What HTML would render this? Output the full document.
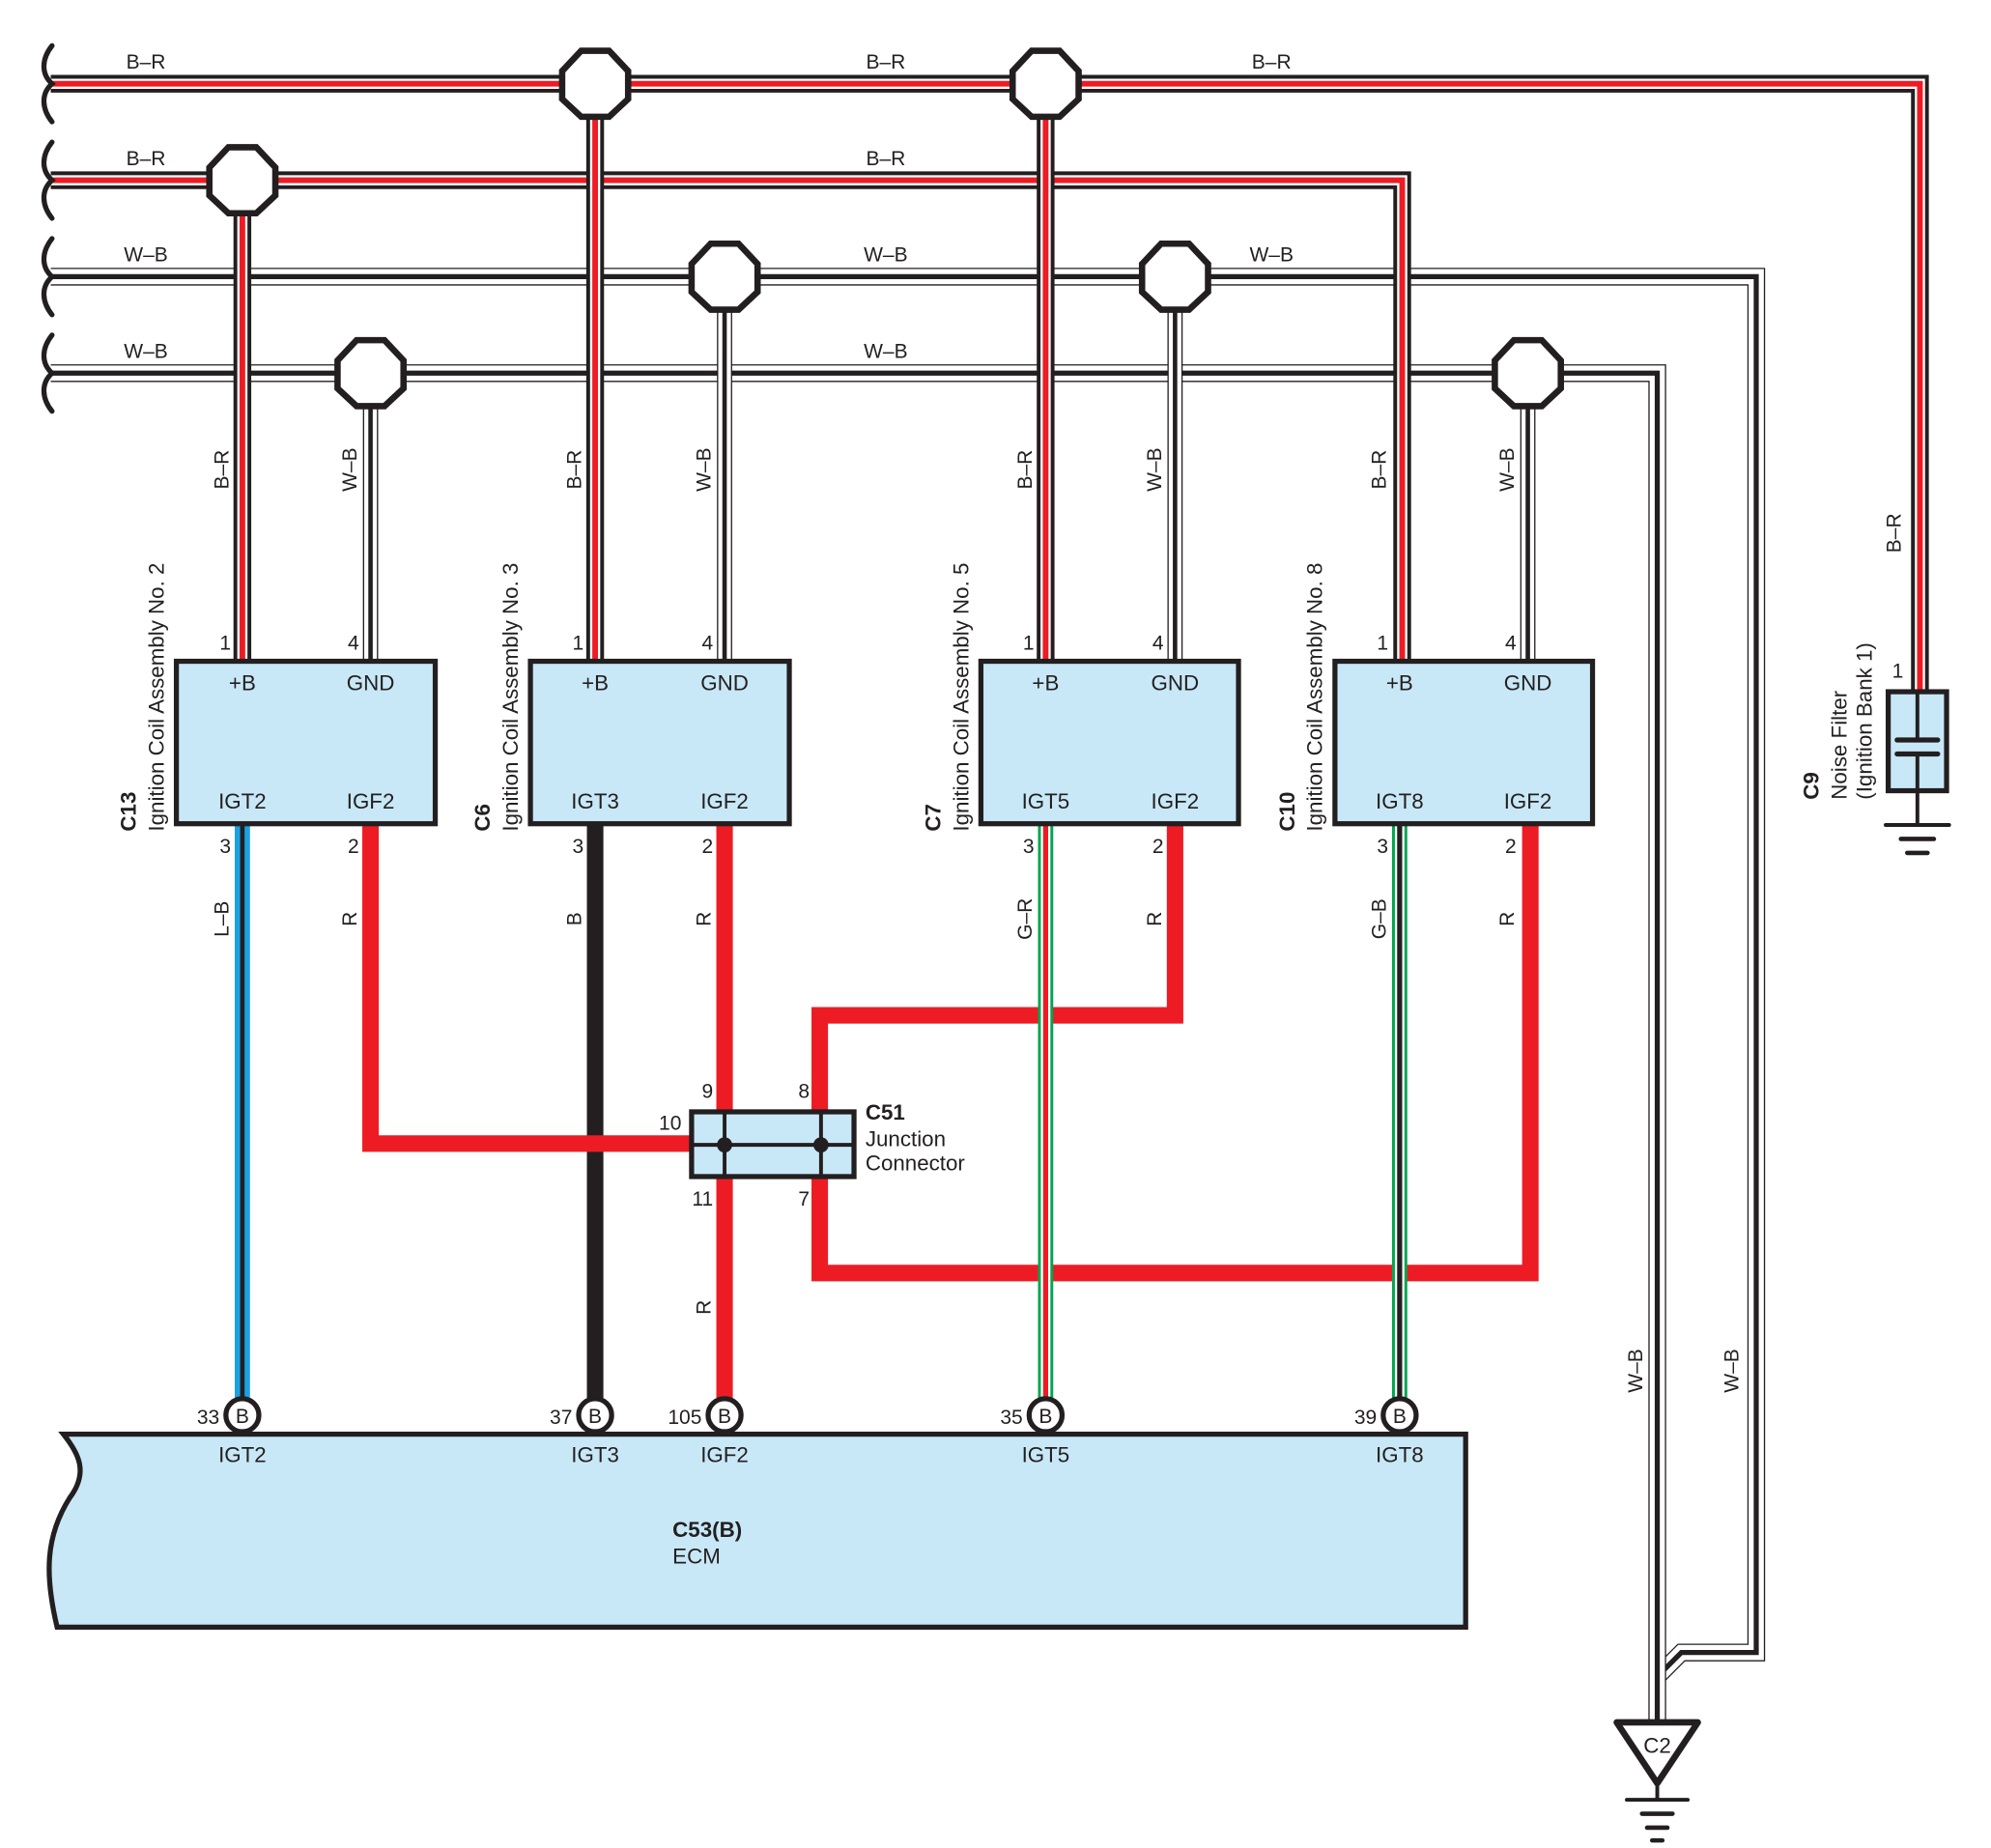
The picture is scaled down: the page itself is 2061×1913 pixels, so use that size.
<!DOCTYPE html>
<html><head><meta charset="utf-8"><style>
html,body{margin:0;padding:0;background:#fff;}
svg{display:block;}
text{font-family:"Liberation Sans",sans-serif;fill:#231f20;}
</style></head><body>
<svg width="2061" height="1913" viewBox="0 0 1569 1456" preserveAspectRatio="none" xmlns="http://www.w3.org/2000/svg">
<g fill="none" stroke-linejoin="miter" stroke-linecap="butt">
<!-- W-B wires -->
<path d="M40 218 H1384 V1302 H1325 L1306 1321" stroke="#231f20" stroke-width="14"/>
<path d="M40 218 H1384 V1302 H1325 L1306 1321" stroke="#fff" stroke-width="12"/>
<path d="M40 218 H1384 V1302 H1325 L1306 1321" stroke="#231f20" stroke-width="4"/>
<path d="M40 294 H1306 V1357" stroke="#231f20" stroke-width="14"/>
<path d="M40 294 H1306 V1357" stroke="#fff" stroke-width="12"/>
<path d="M40 294 H1306 V1357" stroke="#231f20" stroke-width="4"/>
<path d="M292 294 V521 M571 218 V521 M926 218 V521 M1204 294 V521" stroke="#231f20" stroke-width="12"/>
<path d="M292 294 V521 M571 218 V521 M926 218 V521 M1204 294 V521" stroke="#fff" stroke-width="10"/>
<path d="M292 294 V521 M571 218 V521 M926 218 V521 M1204 294 V521" stroke="#231f20" stroke-width="3.5"/>
<!-- B-R wires -->
<path d="M40 66 H1513 V545" stroke="#231f20" stroke-width="14"/>
<path d="M40 66 H1513 V545" stroke="#fff" stroke-width="8"/>
<path d="M40 66 H1513 V545" stroke="#ed1c24" stroke-width="4.5"/>
<path d="M40 142 H1105 V521" stroke="#231f20" stroke-width="14"/>
<path d="M40 142 H1105 V521" stroke="#fff" stroke-width="8"/>
<path d="M40 142 H1105 V521" stroke="#ed1c24" stroke-width="4.5"/>
<path d="M191 142 V521 M469 66 V521 M824 66 V521" stroke="#231f20" stroke-width="14"/>
<path d="M191 142 V521 M469 66 V521 M824 66 V521" stroke="#fff" stroke-width="8"/>
<path d="M191 142 V521 M469 66 V521 M824 66 V521" stroke="#ed1c24" stroke-width="4.5"/>
<!-- braces -->
<g stroke="#231f20" stroke-width="4" stroke-linecap="round">
<path d="M41 36 C33 46 32 58 41 66 C32 74 33 86 41 96"/>
<path d="M41 112 C33 122 32 134 41 142 C32 150 33 162 41 172"/>
<path d="M41 188 C33 198 32 210 41 218 C32 226 33 238 41 248"/>
<path d="M41 264 C33 274 32 286 41 294 C32 302 33 314 41 324"/>
</g>
<!-- signal wires -->
<path d="M191 649 V1103" stroke="#1ba1e2" stroke-width="12"/>
<path d="M191 649 V1103" stroke="#231f20" stroke-width="3.5"/>
<path d="M469 649 V1103" stroke="#231f20" stroke-width="13"/>
<g stroke="#ed1c24" stroke-width="13">
<path d="M292 649 V901 H548"/>
<path d="M571 649 V878 M571 925 V1103"/>
<path d="M926 649 V800 H646 V878"/>
<path d="M646 925 V1003 H1206 V649"/>
</g>
<path d="M824 649 V1103" stroke="#00a651" stroke-width="12"/>
<path d="M824 649 V1103" stroke="#fff" stroke-width="7.5"/>
<path d="M824 649 V1103" stroke="#ed1c24" stroke-width="4"/>
<path d="M1103 649 V1103" stroke="#00a651" stroke-width="12"/>
<path d="M1103 649 V1103" stroke="#fff" stroke-width="7.5"/>
<path d="M1103 649 V1103" stroke="#231f20" stroke-width="4"/>
</g>
<!-- splices -->
<g fill="#fff" stroke="#231f20" stroke-width="5">
<polygon points="458,40 480,40 495,56 495,78 480,92 458,92 443,78 443,56"/>
<polygon points="813,40 835,40 850,56 850,78 835,92 813,92 798,78 798,56"/>
<polygon points="180,116 202,116 217,132 217,154 202,168 180,168 165,154 165,132"/>
<polygon points="560,192 582,192 597,208 597,230 582,244 560,244 545,230 545,208"/>
<polygon points="915,192 937,192 952,208 952,230 937,244 915,244 900,230 900,208"/>
<polygon points="281,268 303,268 318,284 318,306 303,320 281,320 266,306 266,284"/>
<polygon points="1193,268 1215,268 1230,284 1230,306 1215,320 1193,320 1178,306 1178,284"/>
</g>
<!-- coil boxes -->
<g fill="#c8e8f7" stroke="#231f20" stroke-width="4">
<rect x="139" y="521" width="204" height="128"/>
<rect x="418" y="521" width="204" height="128"/>
<rect x="773" y="521" width="203" height="128"/>
<rect x="1052" y="521" width="203" height="128"/>
<rect x="545" y="876" width="128" height="51"/>
<rect x="1488" y="545" width="46" height="78"/>
<path d="M50 1130 H1155 V1282 H45 C35 1240 36 1210 55 1180 C70 1160 62 1145 50 1130 Z"/>
</g>
<!-- junction internals -->
<g stroke="#231f20" stroke-width="3">
<path d="M545 902 H673 M571 876 V927 M647 876 V927"/>
</g>
<circle cx="571" cy="902" r="6" fill="#231f20"/>
<circle cx="647" cy="902" r="6" fill="#231f20"/>
<!-- C9 capacitor and ground -->
<g stroke="#231f20" stroke-linecap="round">
<path d="M1511 545 V583 M1511 594 V650" stroke-width="3"/>
<path d="M1495 583 H1527 M1495 594 H1527" stroke-width="4"/>
<path d="M1486 650 H1536" stroke-width="3"/>
<path d="M1498 661 H1524" stroke-width="3.5"/>
<path d="M1503 672 H1519" stroke-width="3.5"/>
</g>
<!-- C2 ground -->
<polygon points="1274,1357 1338,1357 1306,1405" fill="#fff" stroke="#231f20" stroke-width="5" stroke-linejoin="round"/>
<g stroke="#231f20" stroke-linecap="round">
<path d="M1306 1405 V1418" stroke-width="3"/>
<path d="M1282 1418 H1330" stroke-width="3"/>
<path d="M1294 1429 H1318" stroke-width="3.5"/>
<path d="M1298 1440 H1314" stroke-width="3.5"/>
<path d="M1302 1450 H1310" stroke-width="3.5"/>
</g>
<text x="1306" y="1381" font-size="17" text-anchor="middle">C2</text>
<!-- ECM pins -->
<g fill="#fff" stroke="#231f20" stroke-width="4">
<circle cx="191" cy="1115" r="13"/><circle cx="469" cy="1115" r="13"/><circle cx="571" cy="1115" r="13"/><circle cx="824" cy="1115" r="13"/><circle cx="1103" cy="1115" r="13"/>
</g>
<g font-size="16" text-anchor="middle">
<text x="191" y="1121">B</text><text x="469" y="1121">B</text><text x="571" y="1121">B</text><text x="824" y="1121">B</text><text x="1103" y="1121">B</text>
</g>
<g font-size="16" text-anchor="end">
<text x="173" y="1122">33</text><text x="451" y="1122">37</text><text x="553" y="1122">105</text><text x="806" y="1122">35</text><text x="1085" y="1122">39</text>
</g>
<g font-size="17" text-anchor="middle">
<text x="191" y="1152">IGT2</text><text x="469" y="1152">IGT3</text><text x="571" y="1152">IGF2</text><text x="824" y="1152">IGT5</text><text x="1103" y="1152">IGT8</text>
</g>
<text x="530" y="1211" font-size="17" font-weight="bold">C53(B)</text>
<text x="530" y="1232" font-size="17">ECM</text>
<!-- box labels -->
<g font-size="17" text-anchor="middle">
<text x="191" y="544">+B</text><text x="292" y="544">GND</text><text x="191" y="637">IGT2</text><text x="292" y="637">IGF2</text>
<text x="469" y="544">+B</text><text x="571" y="544">GND</text><text x="469" y="637">IGT3</text><text x="571" y="637">IGF2</text>
<text x="824" y="544">+B</text><text x="926" y="544">GND</text><text x="824" y="637">IGT5</text><text x="926" y="637">IGF2</text>
<text x="1103" y="544">+B</text><text x="1204" y="544">GND</text><text x="1103" y="637">IGT8</text><text x="1204" y="637">IGF2</text>
</g>
<!-- pin numbers -->
<g font-size="16" text-anchor="end">
<text x="182" y="512">1</text><text x="283" y="512">4</text><text x="182" y="672">3</text><text x="283" y="672">2</text>
<text x="460" y="512">1</text><text x="562" y="512">4</text><text x="460" y="672">3</text><text x="562" y="672">2</text>
<text x="815" y="512">1</text><text x="917" y="512">4</text><text x="815" y="672">3</text><text x="917" y="672">2</text>
<text x="1094" y="512">1</text><text x="1195" y="512">4</text><text x="1094" y="672">3</text><text x="1195" y="672">2</text>
<text x="1500" y="534">1</text>
<text x="562" y="865">9</text><text x="638" y="865">8</text><text x="537" y="890">10</text><text x="562" y="950">11</text><text x="638" y="950">7</text>
</g>
<text x="682" y="882" font-size="17" font-weight="bold">C51</text>
<text x="682" y="903" font-size="17">Junction</text>
<text x="682" y="922" font-size="17">Connector</text>
<!-- horizontal wire labels -->
<g font-size="16" text-anchor="middle">
<text x="115" y="54">B–R</text><text x="698" y="54">B–R</text><text x="1002" y="54">B–R</text>
<text x="115" y="130">B–R</text><text x="698" y="130">B–R</text>
<text x="115" y="206">W–B</text><text x="698" y="206">W–B</text><text x="1002" y="206">W–B</text>
<text x="115" y="282">W–B</text><text x="698" y="282">W–B</text>
</g>
<!-- vertical wire labels -->
<g font-size="16" text-anchor="middle">
<text transform="translate(180,370) rotate(-90)">B–R</text>
<text transform="translate(281,370) rotate(-90)">W–B</text>
<text transform="translate(458,370) rotate(-90)">B–R</text>
<text transform="translate(560,370) rotate(-90)">W–B</text>
<text transform="translate(813,370) rotate(-90)">B–R</text>
<text transform="translate(915,370) rotate(-90)">W–B</text>
<text transform="translate(1092,370) rotate(-90)">B–R</text>
<text transform="translate(1193,370) rotate(-90)">W–B</text>
<text transform="translate(1498,420) rotate(-90)">B–R</text>
<text transform="translate(180,724) rotate(-90)">L–B</text>
<text transform="translate(281,724) rotate(-90)">R</text>
<text transform="translate(458,724) rotate(-90)">B</text>
<text transform="translate(560,724) rotate(-90)">R</text>
<text transform="translate(813,724) rotate(-90)">G–R</text>
<text transform="translate(915,724) rotate(-90)">R</text>
<text transform="translate(1092,724) rotate(-90)">G–B</text>
<text transform="translate(1193,724) rotate(-90)">R</text>
<text transform="translate(560,1030) rotate(-90)">R</text>
<text transform="translate(1294,1080) rotate(-90)">W–B</text>
<text transform="translate(1370,1080) rotate(-90)">W–B</text>
</g>
<!-- component names -->
<g font-size="17">
<text transform="translate(107,655) rotate(-90)"><tspan font-weight="bold">C13</tspan></text>
<text transform="translate(129,655) rotate(-90)">Ignition Coil Assembly No. 2</text>
<text transform="translate(386,655) rotate(-90)"><tspan font-weight="bold">C6</tspan></text>
<text transform="translate(408,655) rotate(-90)">Ignition Coil Assembly No. 3</text>
<text transform="translate(741,655) rotate(-90)"><tspan font-weight="bold">C7</tspan></text>
<text transform="translate(763,655) rotate(-90)">Ignition Coil Assembly No. 5</text>
<text transform="translate(1020,655) rotate(-90)"><tspan font-weight="bold">C10</tspan></text>
<text transform="translate(1042,655) rotate(-90)">Ignition Coil Assembly No. 8</text>
<text transform="translate(1433,630) rotate(-90)"><tspan font-weight="bold">C9</tspan></text>
<text transform="translate(1455,630) rotate(-90)">Noise Filter</text>
<text transform="translate(1475,630) rotate(-90)">(Ignition Bank 1)</text>
</g>
</svg>
</body></html>
